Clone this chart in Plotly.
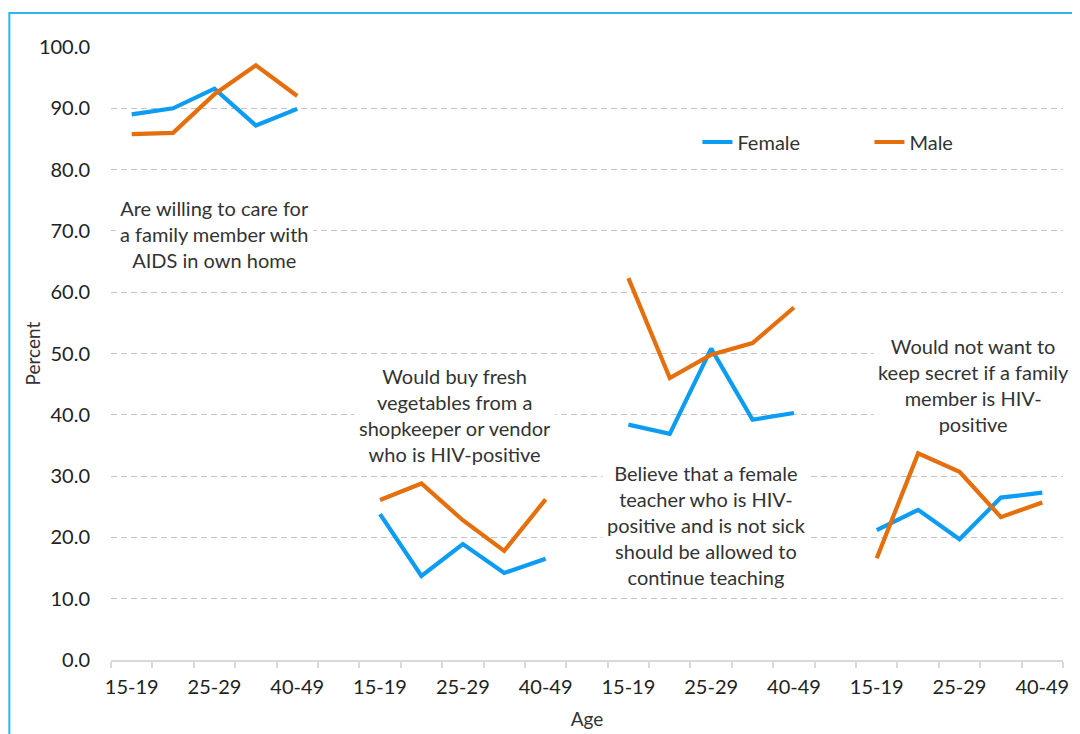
import plotly.graph_objects as go

age_groups = ["15-19", "20-24", "25-29", "30-39", "40-49"]
indicators = [
    "Are willing to care for<br>a family member with<br>AIDS in own home",
    "Would buy fresh<br>vegetables from a<br>shopkeeper or vendor<br>who is HIV-positive",
    "Believe that a female<br>teacher who is HIV-<br>positive and is not sick<br>should be allowed to<br>continue teaching",
    "Would not want to<br>keep secret if a family<br>member is HIV-<br>positive",
]
female = [
    [89.0, 90.0, 93.2, 87.2, 89.9],
    [23.8, 13.7, 18.9, 14.2, 16.5],
    [38.4, 36.9, 50.8, 39.2, 40.3],
    [21.2, 24.5, 19.7, 26.5, 27.3],
]
male = [
    [85.8, 86.0, 92.3, 97.0, 92.0],
    [26.1, 28.8, 22.8, 17.8, 26.2],
    [62.3, 46.0, 49.8, 51.7, 57.5],
    [16.6, 33.7, 30.7, 23.3, 25.7],
]
# label box centres (offset within group, y value)
label_y = [69.5, 39.9, 22.1, 44.9]
label_x = [2.0, 1.82, 1.88, 2.33]

FONT = "Lato"
TXT = "#333333"
F_COL = "#0C9DF2"
M_COL = "#E46F0C"
FS = 20

# build x positions: groups of 5 separated by one blank slot
n = len(age_groups)
step = n + 1
xs, fy, my = [], [], []
for g in range(len(indicators)):
    for i, a in enumerate(age_groups):
        xs.append(g * step + i)
        fy.append(female[g][i])
        my.append(male[g][i])
    if g < len(indicators) - 1:
        xs.append(g * step + n)
        fy.append(None)
        my.append(None)
total = len(xs)
all_labels = []
for g in range(len(indicators)):
    all_labels += age_groups + ([""] if g < len(indicators) - 1 else [])
tickvals = list(range(0, total, 2))
ticktext = [all_labels[k] for k in tickvals]

fig = go.Figure()
fig.add_trace(go.Scatter(x=xs, y=fy, mode="lines", name="Female",
                         line=dict(color=F_COL, width=4.2), connectgaps=False))
fig.add_trace(go.Scatter(x=xs, y=my, mode="lines", name="Male",
                         line=dict(color=M_COL, width=4.2), connectgaps=False))

for g, txt in enumerate(indicators):
    fig.add_annotation(x=g * step + label_x[g], y=label_y[g], xref="x", yref="y",
                       text=txt, showarrow=False, align="center",
                       font=dict(family=FONT, size=FS, color=TXT),
                       bgcolor="white", borderpad=4)

# y-axis title
fig.add_annotation(x=-0.082, y=0.5, xref="paper", yref="paper", text="Percent",
                   textangle=-90, showarrow=False, xanchor="center", yanchor="middle",
                   font=dict(family=FONT, size=FS - 1, color=TXT))

fig.add_shape(type="rect", xref="paper", yref="paper",
              x0=-0.1068, x1=1.2, y0=-0.3, y1=1.0555,
              line=dict(color="#2DB6EE", width=2), fillcolor="rgba(0,0,0,0)", layer="above")

fig.update_layout(
    width=1072, height=726,
    margin=dict(l=103, r=17, t=39, b=74, autoexpand=False),
    paper_bgcolor="white", plot_bgcolor="white",
    font=dict(family=FONT, size=FS, color=TXT),
    showlegend=True,
    legend=dict(orientation="h", x=0.616, y=0.845, xanchor="left", yanchor="middle",
                bgcolor="white", entrywidth=127, entrywidthmode="pixels",
                font=dict(family=FONT, size=FS, color=TXT)),
    xaxis=dict(range=[-0.5, total - 0.5], tickmode="array", tickvals=tickvals,
               ticktext=ticktext, showgrid=False, zeroline=False,
               showline=True, linecolor="#D9D9D9", linewidth=1.5,
               ticks="", ticklabelstandoff=8,
               minor=dict(tickmode="array", tickvals=[k - 0.5 for k in range(total + 1)],
                          ticks="outside", ticklen=6, tickcolor="#D9D9D9", tickwidth=1.5,
                          showgrid=False),
               title=dict(text="Age", font=dict(family=FONT, size=FS - 1, color=TXT), standoff=16),
               tickfont=dict(family=FONT, size=FS, color="#222222")),
    yaxis=dict(range=[0, 100], tickmode="linear", tick0=0, dtick=10, tickformat=".1f",
               showgrid=True, gridcolor="#C4C4C4", gridwidth=1.3, griddash="6px,4px",
               zeroline=False, showline=False, ticks="", ticklabelstandoff=20,
               tickfont=dict(family=FONT, size=FS, color="#222222")),
)

fig.write_html("out.html")
